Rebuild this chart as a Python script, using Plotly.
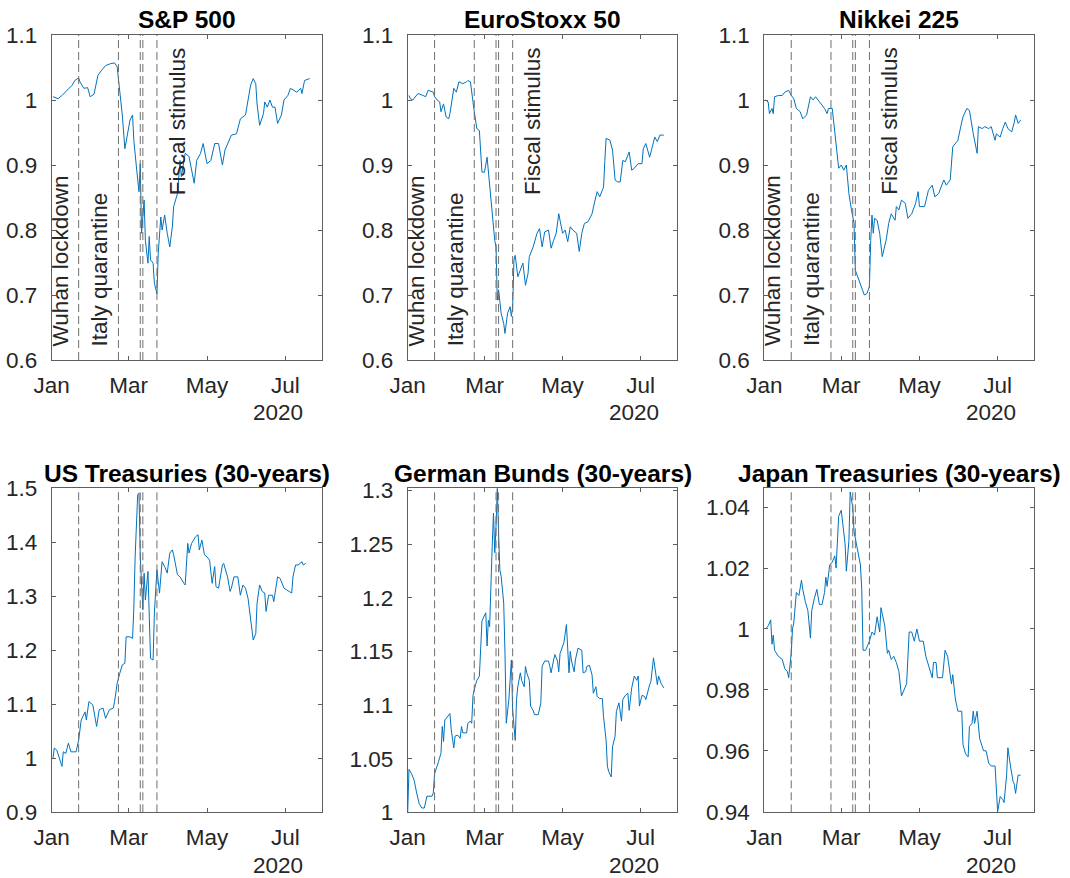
import pandas as pd
import plotly.graph_objects as go
from plotly.subplots import make_subplots

START = pd.Timestamp("2020-01-01")

# ---------------- data (days since 2020-01-01, normalised level) ----------------
sp_days = [1, 5, 8, 12, 16, 18, 21, 22, 25, 28, 30, 33, 36, 39, 42, 46, 49, 51, 53, 55,
           57, 59, 61, 63, 64, 66, 68, 69, 70, 72, 73, 75, 76, 77, 79, 80, 82, 83, 85, 86,
           88, 90, 92, 94, 95, 98, 100, 101, 104, 107, 111, 113, 116, 118, 121, 124, 127, 130, 133, 135,
           138, 140, 144, 147, 151, 153, 155, 157, 159, 160, 162, 165, 166, 168, 170, 172, 174, 176, 179, 181,
           184, 186, 189, 191, 194, 195, 197, 199, 201]
sp_vals = [1.005, 1.002, 1.007, 1.015, 1.023, 1.030, 1.034, 1.028, 1.018, 1.019,
           1.005, 1.009, 1.038, 1.046, 1.053, 1.056, 1.057, 1.051, 1.015, 0.977,
           0.925, 0.948, 0.969, 0.977, 0.938, 0.897, 0.859, 0.902, 0.795, 0.846,
           0.784, 0.749, 0.790, 0.754, 0.749, 0.718, 0.702, 0.764, 0.820, 0.800,
           0.823, 0.795, 0.774, 0.805, 0.836, 0.856, 0.907, 0.882, 0.918, 0.913,
           0.872, 0.907, 0.918, 0.933, 0.902, 0.907, 0.933, 0.933, 0.900, 0.923,
           0.938, 0.946, 0.948, 0.971, 0.977, 1.000, 1.023, 1.033, 1.025, 0.994,
           0.961, 0.979, 0.997, 0.989, 1.000, 0.989, 0.989, 0.964, 0.977, 1.000,
           1.007, 1.018, 1.015, 1.012, 1.018, 1.010, 1.030, 1.032, 1.033]

es_days = [1, 2, 4, 8, 12, 14, 16, 20, 21, 23, 25, 26, 28, 30, 32, 33, 36, 38, 40, 43,
           46, 47, 49, 50, 52, 54, 56, 58, 60, 62, 64, 66, 68, 69, 70, 71, 73, 75, 76, 78,
           80, 81, 82, 83, 84, 86, 88, 90, 92, 94, 95, 98, 101, 103, 105, 107, 110, 112, 114, 116,
           118, 121, 123, 125, 127, 129, 132, 134, 136, 138, 141, 144, 146, 148, 150, 153, 154, 155, 158, 160,
           162, 164, 166, 168, 170, 172, 173, 175, 177, 180, 183, 184, 186, 189, 191, 193, 195, 197, 200]
es_vals = [1.007, 1.002, 1.000, 1.010, 1.007, 1.005, 1.015, 1.012, 1.005, 1.000,
           0.997, 0.982, 0.994, 0.974, 0.971, 0.979, 1.018, 1.012, 1.028, 1.025,
           1.028, 1.030, 1.028, 1.010, 0.982, 0.956, 0.953, 0.889, 0.889, 0.912,
           0.866, 0.825, 0.784, 0.774, 0.692, 0.708, 0.672, 0.656, 0.641, 0.672,
           0.682, 0.667, 0.682, 0.754, 0.761, 0.728, 0.738, 0.749, 0.715, 0.733,
           0.759, 0.774, 0.795, 0.802, 0.774, 0.797, 0.800, 0.772, 0.784, 0.795,
           0.825, 0.795, 0.800, 0.782, 0.805, 0.800, 0.795, 0.767, 0.795, 0.810,
           0.813, 0.825, 0.843, 0.859, 0.851, 0.866, 0.907, 0.941, 0.938, 0.923,
           0.877, 0.874, 0.874, 0.907, 0.905, 0.915, 0.920, 0.892, 0.895, 0.902,
           0.902, 0.925, 0.933, 0.912, 0.928, 0.943, 0.936, 0.946, 0.946]

nk_days = [1, 3, 4, 6, 7, 8, 11, 14, 16, 19, 21, 23, 25, 28, 30, 33, 36, 38, 40, 42,
           44, 47, 49, 50, 53, 55, 58, 60, 62, 64, 66, 68, 70, 71, 73, 75, 78, 80, 82, 83,
           84, 85, 86, 88, 90, 92, 95, 97, 99, 102, 103, 105, 107, 110, 112, 115, 118, 120, 121, 125,
           128, 131, 133, 136, 138, 140, 142, 145, 147, 149, 151, 154, 155, 158, 160, 163, 166, 167, 170, 172,
           175, 177, 180, 181, 184, 186, 188, 190, 193, 195, 196, 198, 200]
nk_vals = [1.000, 0.997, 0.979, 0.987, 0.979, 1.005, 1.007, 1.007, 1.012, 1.015,
           1.007, 1.002, 0.987, 0.982, 0.971, 0.977, 1.005, 1.000, 1.005, 1.000,
           0.994, 0.987, 0.979, 0.987, 0.987, 0.953, 0.895, 0.900, 0.892, 0.900,
           0.856, 0.831, 0.810, 0.738, 0.728, 0.718, 0.700, 0.702, 0.713, 0.784,
           0.823, 0.795, 0.818, 0.815, 0.795, 0.759, 0.784, 0.810, 0.825, 0.815,
           0.836, 0.831, 0.846, 0.841, 0.818, 0.825, 0.841, 0.859, 0.836, 0.836,
           0.861, 0.869, 0.851, 0.856, 0.866, 0.877, 0.869, 0.877, 0.928, 0.933,
           0.938, 0.966, 0.974, 0.987, 0.984, 0.948, 0.918, 0.959, 0.956, 0.959,
           0.956, 0.959, 0.938, 0.948, 0.943, 0.956, 0.966, 0.956, 0.951, 0.966,
           0.977, 0.964, 0.969]

us_days = [1, 2, 4, 6, 8, 9, 11, 13, 15, 17, 19, 21, 23, 26, 27, 29, 32, 35, 37, 40,
           42, 45, 48, 49, 51, 53, 55, 57, 58, 61, 63, 64, 65, 67, 68, 69, 70, 71, 72, 73,
           75, 76, 77, 79, 80, 82, 84, 86, 88, 90, 92, 94, 95, 98, 100, 103, 104, 106, 107, 109,
           112, 114, 115, 117, 119, 121, 123, 125, 127, 128, 130, 133, 134, 137, 139, 140, 142, 145, 147, 149,
           151, 153, 155, 157, 159, 160, 162, 164, 166, 167, 169, 172, 173, 176, 178, 181, 183, 185, 187, 188,
           190, 192, 195, 196, 198]
us_vals = [1.000, 1.019, 1.015, 1.000, 0.985, 1.012, 1.009, 1.028, 1.012, 1.012,
           1.012, 1.034, 1.071, 1.086, 1.071, 1.105, 1.099, 1.059, 1.090, 1.093,
           1.074, 1.090, 1.093, 1.105, 1.139, 1.157, 1.173, 1.176, 1.225, 1.225,
           1.222, 1.278, 1.373, 1.488, 1.491, 1.373, 1.306, 1.275, 1.343, 1.293,
           1.346, 1.262, 1.185, 1.182, 1.269, 1.349, 1.306, 1.364, 1.355, 1.343,
           1.380, 1.386, 1.377, 1.340, 1.336, 1.324, 1.321, 1.398, 1.380, 1.398,
           1.410, 1.414, 1.386, 1.404, 1.377, 1.373, 1.367, 1.324, 1.355, 1.318,
           1.315, 1.358, 1.361, 1.336, 1.309, 1.315, 1.336, 1.336, 1.302, 1.321,
           1.315, 1.296, 1.253, 1.219, 1.231, 1.287, 1.321, 1.309, 1.306, 1.272,
           1.302, 1.302, 1.290, 1.336, 1.333, 1.315, 1.312, 1.309, 1.306, 1.336,
           1.358, 1.358, 1.364, 1.358, 1.361]

de_days = [0, 1, 3, 5, 7, 9, 11, 13, 15, 16, 19, 20, 21, 24, 26, 27, 28, 29, 31, 33,
           34, 36, 37, 39, 41, 42, 43, 46, 47, 49, 50, 51, 53, 54, 56, 58, 59, 61, 62, 63,
           64, 65, 66, 67, 68, 69, 70, 71, 72, 73, 75, 76, 77, 79, 80, 81, 82, 83, 84, 85,
           86, 88, 89, 91, 92, 93, 95, 96, 98, 99, 102, 104, 105, 107, 110, 111, 112, 114, 115, 117,
           118, 119, 120, 122, 124, 125, 126, 127, 128, 130, 131, 133, 136, 137, 139, 140, 142, 144, 145, 147,
           148, 150, 152, 153, 155, 156, 157, 159, 160, 162, 163, 165, 167, 168, 170, 172, 173, 175, 177, 179,
           180, 181, 183, 185, 186, 189, 190, 192, 194, 195, 196, 198, 200]
de_vals = [1.000, 1.040, 1.036, 1.030, 1.018, 1.008, 1.004, 1.004, 1.015, 1.015,
           1.015, 1.018, 1.036, 1.047, 1.055, 1.080, 1.066, 1.086, 1.089, 1.092,
           1.077, 1.060, 1.071, 1.072, 1.069, 1.080, 1.074, 1.074, 1.083, 1.085,
           1.083, 1.109, 1.119, 1.123, 1.127, 1.178, 1.181, 1.186, 1.155, 1.179,
           1.173, 1.217, 1.248, 1.279, 1.242, 1.267, 1.302, 1.260, 1.226, 1.220,
           1.195, 1.148, 1.083, 1.105, 1.123, 1.142, 1.095, 1.081, 1.067, 1.105,
           1.117, 1.130, 1.123, 1.117, 1.136, 1.130, 1.123, 1.099, 1.095, 1.091,
           1.091, 1.102, 1.136, 1.141, 1.141, 1.136, 1.130, 1.142, 1.147, 1.141,
           1.131, 1.148, 1.151, 1.158, 1.175, 1.151, 1.130, 1.150, 1.141, 1.131,
           1.142, 1.153, 1.151, 1.130, 1.131, 1.136, 1.137, 1.128, 1.111, 1.117,
           1.108, 1.106, 1.106, 1.089, 1.067, 1.043, 1.038, 1.033, 1.061, 1.071,
           1.094, 1.102, 1.085, 1.105, 1.109, 1.111, 1.095, 1.116, 1.127, 1.123,
           1.127, 1.099, 1.109, 1.108, 1.105, 1.119, 1.122, 1.144, 1.130, 1.119,
           1.127, 1.120, 1.116]

jp_days = [1, 3, 5, 6, 7, 8, 11, 14, 16, 18, 19, 21, 22, 23, 25, 27, 29, 30, 32, 34,
           36, 37, 39, 41, 43, 45, 47, 48, 49, 51, 53, 55, 56, 58, 60, 62, 63, 64, 66, 67,
           69, 70, 72, 73, 75, 76, 77, 79, 81, 82, 84, 86, 88, 90, 91, 92, 94, 96, 97, 99,
           101, 103, 105, 107, 109, 111, 113, 115, 117, 119, 121, 124, 126, 129, 131, 132, 134, 135, 137, 139,
           141, 143, 145, 146, 147, 149, 151, 154, 155, 157, 159, 160, 162, 163, 164, 166, 168, 171, 173, 175,
           177, 180, 182, 184, 186, 187, 189, 190, 192, 194, 195, 196, 198, 200]
jp_vals = [1.000, 1.001, 1.003, 0.995, 0.998, 0.993, 0.991, 0.990, 0.987, 0.986,
           0.984, 0.992, 1.000, 1.002, 1.012, 1.011, 1.016, 1.013, 1.009, 1.006,
           0.997, 1.006, 1.010, 1.013, 1.008, 1.008, 1.012, 1.017, 1.014, 1.021,
           1.022, 1.024, 1.020, 1.037, 1.039, 1.030, 1.028, 1.019, 1.029, 1.045,
           1.040, 1.032, 1.027, 1.025, 1.021, 1.013, 0.993, 0.993, 0.995, 0.996,
           0.999, 0.998, 1.004, 0.999, 1.007, 1.005, 1.001, 0.992, 0.993, 0.990,
           0.991, 0.989, 0.986, 0.978, 0.980, 0.982, 0.999, 0.999, 0.996, 1.000,
           0.996, 0.996, 0.991, 0.987, 0.984, 0.989, 0.989, 0.984, 0.984, 0.984,
           0.993, 0.991, 0.985, 0.982, 0.985, 0.977, 0.973, 0.973, 0.962, 0.959,
           0.958, 0.968, 0.969, 0.973, 0.969, 0.973, 0.964, 0.960, 0.960, 0.956,
           0.955, 0.955, 0.940, 0.945, 0.944, 0.943, 0.952, 0.961, 0.955, 0.950,
           0.949, 0.946, 0.952, 0.952]

titles = ["S&P 500", "EuroStoxx 50", "Nikkei 225",
          "US Treasuries (30-years)", "German Bunds (30-years)", "Japan Treasuries (30-years)"]

event_dates = ["2020-01-22", "2020-02-22", "2020-03-10", "2020-03-12", "2020-03-23"]
event_labels = ["Wuhan lockdown", "Italy quarantine", "Fiscal stimulus"]

month_ticks = ["2020-01-01", "2020-03-01", "2020-05-01", "2020-07-01"]
month_labels = ["Jan", "Mar", "May", "Jul"]
year_label = "2020"

yticks_equity = [0.6, 0.7, 0.8, 0.9, 1.0, 1.1]
yticks_us = [0.9, 1.0, 1.1, 1.2, 1.3, 1.4, 1.5]
yticks_de = [1.0, 1.05, 1.1, 1.15, 1.2, 1.25, 1.3]
yticks_jp = [0.94, 0.96, 0.98, 1.0, 1.02, 1.04]

yrange_equity = [0.6, 1.1]
yrange_us = [0.9, 1.5]
yrange_de = [1.0, 1.302]
yrange_jp = [0.9398, 1.0462]

# ---------------- figure ----------------
W, H = 1070, 878
BLUE = "#0072BD"
AX = "#262626"
AXLINE = "#5f5f5f"
FONT = "Liberation Sans, Arial, Helvetica, sans-serif"

panels = [
    (sp_days, sp_vals, yrange_equity, yticks_equity, True),
    (es_days, es_vals, yrange_equity, yticks_equity, True),
    (nk_days, nk_vals, yrange_equity, yticks_equity, True),
    (us_days, us_vals, yrange_us, yticks_us, False),
    (de_days, de_vals, yrange_de, yticks_de, False),
    (jp_days, jp_vals, yrange_jp, yticks_jp, False),
]

col_px = [(51.7, 322.0), (407.7, 677.3), (764.3, 1034.3)]
row_px = [(35.0, 360.0), (488.3, 812.3)]

fig = make_subplots(rows=2, cols=3)

def to_dates(days):
    return START + pd.to_timedelta(days, unit="D")

x_end = START + pd.Timedelta(days=210.6)

for i, (days, vals, yr, yt, labelled) in enumerate(panels):
    r, c = divmod(i, 3)
    fig.add_trace(go.Scatter(x=to_dates(days), y=vals, mode="lines",
                             line=dict(color=BLUE, width=1), showlegend=False,
                             hoverinfo="skip"), row=r + 1, col=c + 1)
    n = "" if i == 0 else str(i + 1)
    xa, ya = "x" + n, "y" + n
    x0, x1 = col_px[c]
    y0, y1 = row_px[r]
    fig.layout["xaxis" + n].update(
        domain=[x0 / W, x1 / W], range=[START, x_end], type="date", automargin=False,
        tickvals=month_ticks, ticktext=month_labels,
        ticks="inside", ticklen=4, tickcolor=AXLINE, tickwidth=1,
        showline=True, linecolor=AXLINE, linewidth=1, mirror="ticks",
        showgrid=False, zeroline=False, ticklabelstandoff=5,
        tickfont=dict(family=FONT, size=22.5, color=AX))
    fig.layout["yaxis" + n].update(
        domain=[1 - y1 / H, 1 - y0 / H], range=yr, automargin=False,
        tickvals=yt, ticktext=[f"{v:g}" for v in yt],
        ticks="inside", ticklen=4, tickcolor=AXLINE, tickwidth=1,
        showline=True, linecolor=AXLINE, linewidth=1, mirror="ticks",
        showgrid=False, zeroline=False, ticklabelstandoff=9,
        tickfont=dict(family=FONT, size=22.5, color=AX))
    # event lines
    for d in event_dates:
        fig.add_shape(type="line", xref=xa, yref=ya + " domain", x0=d, x1=d, y0=0, y1=1,
                      line=dict(color="rgb(110,110,110)", width=1, dash="8px,4px"))
    # title
    fig.add_annotation(text="<b>" + titles[i] + "</b>", xref="paper", yref="paper",
                       x=(x0 + x1) / 2 / W, y=1 - (y0 - 15) / H, xanchor="center",
                       yanchor="middle", showarrow=False,
                       font=dict(family=FONT, size=24.5, color="black"))
    # year label
    fig.add_annotation(text=year_label, xref=xa, yref="paper", x="2020-06-25 12:00",
                       y=1 - (y1 + 53) / H, xanchor="center", yanchor="middle",
                       showarrow=False, font=dict(family=FONT, size=22.5, color=AX))
    if labelled:
        label_pos = [("2020-01-08", yr[0] + 0.018), ("2020-02-07", yr[0] + 0.018),
                     ("2020-04-08", 0.851)]
        for txt, (lx, ly) in zip(event_labels, label_pos):
            fig.add_annotation(text=txt, xref=xa, yref=ya, x=lx, y=ly, textangle=-90,
                               xanchor="center", yanchor="bottom", showarrow=False,
                               font=dict(family=FONT, size=22.5, color=AX))

fig.update_layout(width=W, height=H, margin=dict(l=0, r=0, t=0, b=0),
                  paper_bgcolor="white", plot_bgcolor="white",
                  font=dict(family=FONT, color=AX))

fig.write_html("out.html", post_script="document.body.style.margin='0';",
               config={"displayModeBar": False})
